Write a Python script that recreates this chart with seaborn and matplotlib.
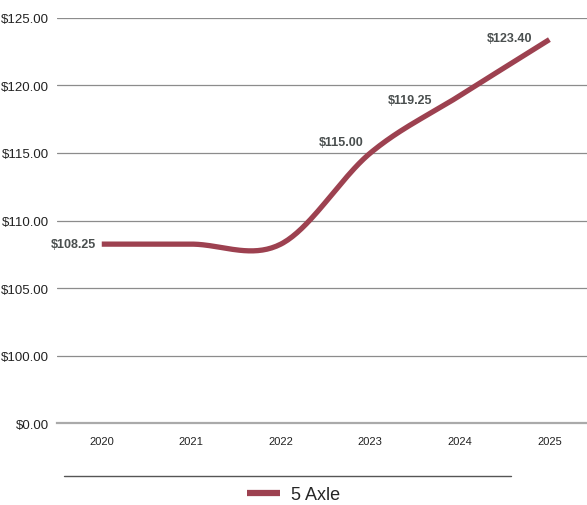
import numpy as np
import pandas as pd
import seaborn as sns
import matplotlib.pyplot as plt
from matplotlib.lines import Line2D

# datos
anios = ['2020', '2021', '2022', '2023', '2024', '2025']
tarifa = [108.25, 108.25, 108.25, 115.00, 119.25, 123.40]
etiquetas = ['$108.25', '', '', '$115.00', '$119.25', '$123.40']
ticks_y = [95, 100, 105, 110, 115, 120, 125]
ticks_y_txt = ['$0.00', '$100.00', '$105.00', '$110.00', '$115.00', '$120.00', '$125.00']

color_linea = '#9d4150'

sns.set_style('white')
plt.rcParams['font.family'] = ['Liberation Sans Narrow', 'Liberation Sans', 'DejaVu Sans']

# curva suavizada (catmull-rom) como en la grafica original
x = np.arange(len(tarifa), dtype=float)
y = np.array(tarifa)
xs, ys = [], []
for i in range(len(x) - 1):
    p0 = y[max(i - 1, 0)]
    p1 = y[i]
    p2 = y[i + 1]
    p3 = y[min(i + 2, len(y) - 1)]
    m1 = (p2 - p0) / (2 if 0 < i else 1)
    m2 = (p3 - p1) / (2 if i + 2 < len(y) else 1)
    t = np.linspace(0, 1, 40)
    h00 = 2*t**3 - 3*t**2 + 1
    h10 = t**3 - 2*t**2 + t
    h01 = -2*t**3 + 3*t**2
    h11 = t**3 - t**2
    xs.extend(x[i] + t)
    ys.extend(h00*p1 + h10*m1 + h01*p2 + h11*m2)
curva = pd.DataFrame({'x': xs, 'y': ys, 'serie': '5 Axle'})

fig = plt.figure(figsize=(5.87, 5.06), dpi=100)
ax = fig.add_axes([0.0971, 0.162, 0.9029, 0.8005])

sns.lineplot(data=curva, x='x', y='y', ax=ax, color=color_linea, linewidth=3.8,
             legend=False, solid_capstyle='butt')

ax.set_xlim(-0.5, 5.42)
ax.set_ylim(95, 125)
ax.set_yticks(ticks_y)
ax.set_yticklabels(ticks_y_txt, fontsize=9.5, color='#222222')
ax.set_xticks(x)
ax.set_xticklabels(anios, fontsize=8, color='#222222')
ax.set_xticks(np.arange(-0.5, 5.5, 1), minor=True)
ax.tick_params(axis='x', which='major', length=0, pad=9)
ax.tick_params(axis='x', which='minor', length=9, direction='inout', color='#999999', width=1)
ax.tick_params(axis='y', length=0, pad=6)
ax.set_xlabel('')
ax.set_ylabel('')

for v in ticks_y[1:]:
    ax.axhline(v, color='#8c8c8c', linewidth=0.9, zorder=0)
for lado in ['top', 'right', 'left']:
    ax.spines[lado].set_visible(False)
ax.spines['bottom'].set_color('#aaaaaa')
ax.spines['bottom'].set_linewidth(1.6)

# etiquetas de datos
desplaz = [(-4, 0), (0, 0), (0, 0), (-5, 8), (-20, -3), (-12, 1)]
for xi, yi, txt, d in zip(x, tarifa, etiquetas, desplaz):
    if txt:
        ax.annotate(txt, (xi, yi), xytext=d, textcoords='offset points', ha='right', va='center',
                    fontsize=9, fontweight='bold', color='#4a4f4f')

# linea inferior y leyenda
fig.add_artist(Line2D([0.109, 0.871], [0.058, 0.058], color='#555555', linewidth=1))
manejador = Line2D([], [], color=color_linea, linewidth=4.5, solid_capstyle='butt')
fig.legend([manejador], ['5 Axle'], loc='center', bbox_to_anchor=(0.5, 0.02), frameon=False,
           fontsize=13, handlelength=1.8, handletextpad=0.6, borderpad=0.2)

plt.savefig('out.png', dpi=100)
